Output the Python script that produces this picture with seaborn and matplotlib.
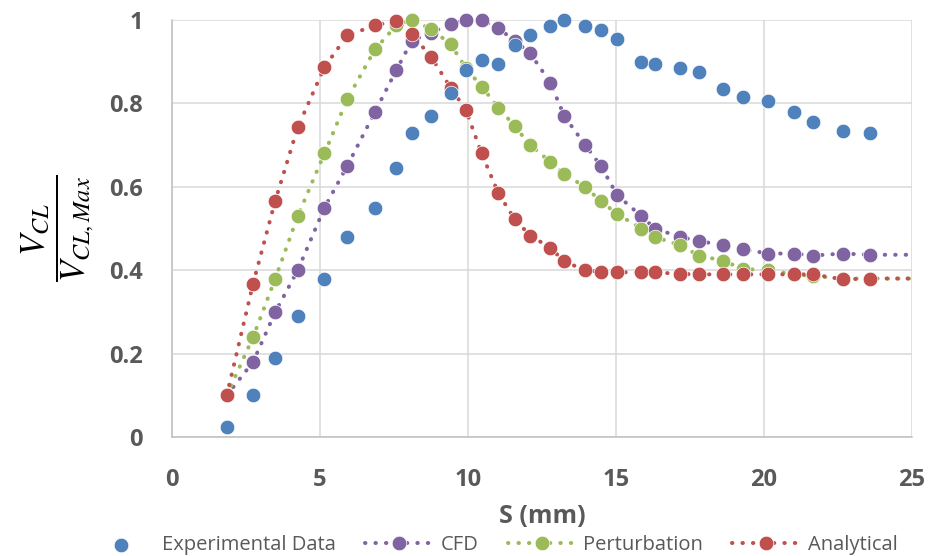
import numpy as np
import pandas as pd
import seaborn as sns
import matplotlib
matplotlib.use("Agg")
from matplotlib import pyplot as plt
from matplotlib.patches import Rectangle
from matplotlib.ticker import MultipleLocator, FuncFormatter

# S (mm) positions shared by all series
s = [1.85, 2.74, 3.49, 4.25, 5.15, 5.92, 6.86, 7.58, 8.10, 8.76, 9.41, 9.93,
     10.46, 11.03, 11.58, 12.10, 12.78, 13.25, 13.96, 14.49, 15.04, 15.85,
     16.31, 17.15, 17.81, 18.60, 19.30, 20.14, 21.01, 21.65, 22.66, 23.59]

experimental = [0.025, 0.10, 0.19, 0.29, 0.38, 0.48, 0.55, 0.645, 0.73, 0.77,
                0.825, 0.88, 0.905, 0.895, 0.94, 0.965, 0.985, 1.0, 0.985,
                0.975, 0.955, 0.90, 0.895, 0.885, 0.875, 0.835, 0.815, 0.805,
                0.78, 0.755, 0.735, 0.73]

cfd = [0.10, 0.18, 0.30, 0.40, 0.55, 0.65, 0.78, 0.88, 0.95, 0.97, 0.99, 1.0,
       1.0, 0.98, 0.95, 0.92, 0.85, 0.77, 0.70, 0.65, 0.58, 0.53, 0.50, 0.48,
       0.47, 0.46, 0.45, 0.44, 0.44, 0.435, 0.44, 0.437]

perturbation = [0.10, 0.24, 0.38, 0.53, 0.68, 0.81, 0.93, 0.987, 1.0, 0.978,
                0.942, 0.885, 0.84, 0.79, 0.745, 0.70, 0.66, 0.63, 0.60,
                0.565, 0.535, 0.50, 0.48, 0.46, 0.435, 0.423, 0.403, 0.40,
                0.39, 0.386, 0.38, 0.38]

analytical = [0.10, 0.368, 0.567, 0.743, 0.887, 0.963, 0.987, 0.998, 0.966,
              0.911, 0.838, 0.784, 0.68, 0.584, 0.522, 0.483, 0.454, 0.421,
              0.40, 0.396, 0.395, 0.395, 0.395, 0.391, 0.39, 0.39, 0.39, 0.39,
              0.39, 0.39, 0.378, 0.38]

# the model curves run on past the right edge of the axis
s_tail = 25.5
cfd_tail = 0.437
perturbation_tail = 0.38
analytical_tail = 0.38

sns.set_style("white")
plt.rcParams["font.family"] = ["Open Sans", "DejaVu Sans"]
plt.rcParams["mathtext.fontset"] = "stix"

grey = "#595959"
axis_grey = "#BFBFBF"

fig = plt.figure(figsize=(9.29, 5.56), dpi=100)
ax = fig.add_axes([172 / 929, 1 - 437 / 556, 740 / 929, 417 / 556])

clip = Rectangle((0, -0.1), 1, 1.2, transform=ax.transAxes, visible=False)
ax.add_patch(clip)

models = [("CFD", cfd, cfd_tail, "#8064A2"),
          ("Perturbation", perturbation, perturbation_tail, "#9BBB59"),
          ("Analytical", analytical, analytical_tail, "#C0504D")]

for name, vals, tail, col in models:
    df = pd.DataFrame({"S": s + [s_tail], "V": vals + [tail]})
    sns.lineplot(data=df, x="S", y="V", ax=ax, color=col, sort=False,
                 estimator=None, marker="o", markersize=10.5,
                 markeredgecolor="white", markeredgewidth=0.5,
                 linestyle=(0, (0.1, 2.5)), linewidth=2.9,
                 dash_capstyle="round", label=name, zorder=3)
    line = ax.lines[-1]
    line.set_clip_path(clip)

exp_df = pd.DataFrame({"S": s, "V": experimental})
sns.scatterplot(data=exp_df, x="S", y="V", ax=ax, color="#4F81BD", s=110,
                edgecolor="white", linewidth=0.5, label="Experimental Data",
                zorder=5, clip_on=False)

ax.set_xlim(0, 25)
ax.set_ylim(0, 1)
ax.xaxis.set_major_locator(MultipleLocator(5))
ax.xaxis.set_minor_locator(MultipleLocator(1))
ax.yaxis.set_major_locator(MultipleLocator(0.2))
ax.yaxis.set_minor_locator(MultipleLocator(0.02))
ax.yaxis.set_major_formatter(FuncFormatter(lambda v, p: "{:g}".format(round(v, 2))))

ax.grid(True, which="major", color="#D9D9D9", linewidth=1.1)
for side in ["top", "right"]:
    ax.spines[side].set_visible(False)
for side in ["left", "bottom"]:
    ax.spines[side].set_color(axis_grey)
    ax.spines[side].set_linewidth(1.1)

ax.tick_params(axis="x", which="both", direction="out", length=6,
               color=axis_grey, width=1.1)
ax.tick_params(axis="x", which="major", pad=16, labelsize=17, labelcolor=grey)
ax.tick_params(axis="y", which="both", direction="in", length=4.3,
               color=axis_grey, width=1.1)
ax.tick_params(axis="y", which="major", pad=21, labelsize=17, labelcolor=grey)
for lab in ax.get_xticklabels() + ax.get_yticklabels():
    lab.set_fontweight("bold")

ax.set_xlabel("S (mm)", fontsize=18, fontweight="bold", color=grey, labelpad=9)
ax.set_ylabel("")
fig.text(58 / 929, 1 - 228 / 556, r"$\dfrac{V_{CL}}{V_{CL,Max}}$",
         rotation=90, ha="center", va="center", fontsize=25, color="black")

handles, labels = ax.get_legend_handles_labels()
order = [labels.index(n) for n in ["Experimental Data", "CFD", "Perturbation", "Analytical"]]
ax.get_legend().remove()
fig.legend([handles[i] for i in order], [labels[i] for i in order],
           loc="center", bbox_to_anchor=(492 / 929, 1 - 545 / 556), ncol=4,
           frameon=False, fontsize=14.5, handlelength=3.4, handletextpad=0.35,
           columnspacing=1.45, labelcolor=grey, numpoints=1, scatterpoints=1,
           borderpad=0)

fig.savefig("out.png", dpi=100)
